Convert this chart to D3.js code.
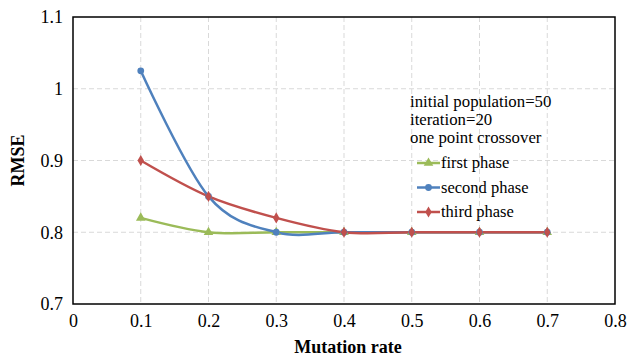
<!DOCTYPE html>
<html>
<head>
<meta charset="utf-8">
<script src="https://cdn.jsdelivr.net/npm/d3@7"></script>
<style>
  body { margin: 0; background: #fff; }
  text { font-family: "Liberation Serif", "Times New Roman", serif; }
</style>
</head>
<body>
<div id="chart"></div>
<script>
const mutationRates = [0.1, 0.2, 0.3, 0.4, 0.5, 0.6, 0.7];
const firstPhase = [0.82, 0.80, 0.80, 0.80, 0.80, 0.80, 0.80];
const secondPhase = [1.025, 0.85, 0.80, 0.80, 0.80, 0.80, 0.80];
const thirdPhase = [0.90, 0.85, 0.82, 0.80, 0.80, 0.80, 0.80];
const xTicks = [0, 0.1, 0.2, 0.3, 0.4, 0.5, 0.6, 0.7, 0.8];
const yTicks = [0.7, 0.8, 0.9, 1, 1.1];
const notes = ["initial population=50", "iteration=20", "one point crossover"];

const series = [
  { name: "first phase", values: firstPhase, color: "#9BBB59", symbol: d3.symbolTriangle, size: 40 },
  { name: "second phase", values: secondPhase, color: "#4F81BD", symbol: d3.symbolCircle, size: 36 },
  { name: "third phase", values: thirdPhase, color: "#C0504D", symbol: d3.symbolDiamond, size: 36 }
];

const width = 628, height = 356;
const margin = { top: 17, left: 73, bottom: 52, right: 13 };
const innerW = width - margin.left - margin.right;
const innerH = height - margin.top - margin.bottom;

const svg = d3.select("#chart").append("svg")
  .attr("width", width)
  .attr("height", height);

const g = svg.append("g")
  .attr("transform", `translate(${margin.left}, ${margin.top})`);

const xScale = d3.scaleLinear().domain([0, 0.8]).range([0, innerW]);
const yScale = d3.scaleLinear().domain([0.7, 1.1]).range([innerH, 0]);

// grid
g.append("g").selectAll("line").data(xTicks.slice(1, -1)).enter().append("line")
  .attr("x1", d => xScale(d)).attr("x2", d => xScale(d))
  .attr("y1", 0).attr("y2", innerH)
  .attr("stroke", "#d9d9d9").attr("stroke-dasharray", "5,3");
g.append("g").selectAll("line").data(yTicks.slice(1, -1)).enter().append("line")
  .attr("x1", 0).attr("x2", innerW)
  .attr("y1", d => yScale(d)).attr("y2", d => yScale(d))
  .attr("stroke", "#d9d9d9").attr("stroke-dasharray", "5,3");

// frame
g.append("rect")
  .attr("width", innerW).attr("height", innerH)
  .attr("fill", "none").attr("stroke", "#000").attr("stroke-width", 1.5);

// axes (labels only)
const xAxis = g.append("g")
  .attr("transform", `translate(0, ${innerH})`)
  .call(d3.axisBottom(xScale).tickValues(xTicks).tickSize(0).tickPadding(10).tickFormat(d => String(d)));
const yAxis = g.append("g")
  .call(d3.axisLeft(yScale).tickValues(yTicks).tickSize(0).tickPadding(10).tickFormat(d => String(d)));
[xAxis, yAxis].forEach(a => {
  a.select(".domain").remove();
  a.attr("font-family", null).attr("font-size", null);
  a.selectAll("text")
    .style("font-family", "'Liberation Serif', serif")
    .style("font-size", "18px")
    .attr("fill", "#000");
});

svg.append("text")
  .attr("x", margin.left + innerW / 2 + 4)
  .attr("y", 353)
  .attr("text-anchor", "middle")
  .style("font-size", "18px").style("font-weight", "bold")
  .text("Mutation rate");

svg.append("text")
  .attr("transform", `translate(24, ${margin.top + innerH / 2}) rotate(-90)`)
  .attr("text-anchor", "middle")
  .style("font-size", "18px").style("font-weight", "bold")
  .text("RMSE");

// lines
const line = d3.line()
  .x((d, i) => xScale(mutationRates[i]))
  .y(d => yScale(d))
  .curve(d3.curveCatmullRom.alpha(0));

series.forEach(s => {
  g.append("path")
    .datum(s.values)
    .attr("fill", "none")
    .attr("stroke", s.color)
    .attr("stroke-width", 2.5)
    .attr("d", line);
});
series.forEach(s => {
  g.append("g").selectAll("path").data(s.values).enter().append("path")
    .attr("transform", (d, i) => `translate(${xScale(mutationRates[i])}, ${yScale(d)})`)
    .attr("d", d3.symbol().type(s.symbol).size(s.size))
    .attr("fill", s.color);
});

// notes + legend
const notesG = svg.append("g");
notes.forEach((t, i) => {
  notesG.append("text")
    .attr("x", 410).attr("y", 107 + i * 18)
    .style("font-size", "16.8px")
    .text(t);
});

const legend = svg.append("g");
series.forEach((s, i) => {
  const y = 163 + i * 24.5;
  legend.append("line")
    .attr("x1", 417).attr("x2", 440).attr("y1", y).attr("y2", y)
    .attr("stroke", s.color).attr("stroke-width", 2.5);
  legend.append("path")
    .attr("transform", `translate(428.5, ${y})`)
    .attr("d", d3.symbol().type(s.symbol).size(s.size))
    .attr("fill", s.color);
  legend.append("text")
    .attr("x", 441).attr("y", y + 5)
    .style("font-size", "16.5px")
    .text(s.name);
});
</script>
</body>
</html>
